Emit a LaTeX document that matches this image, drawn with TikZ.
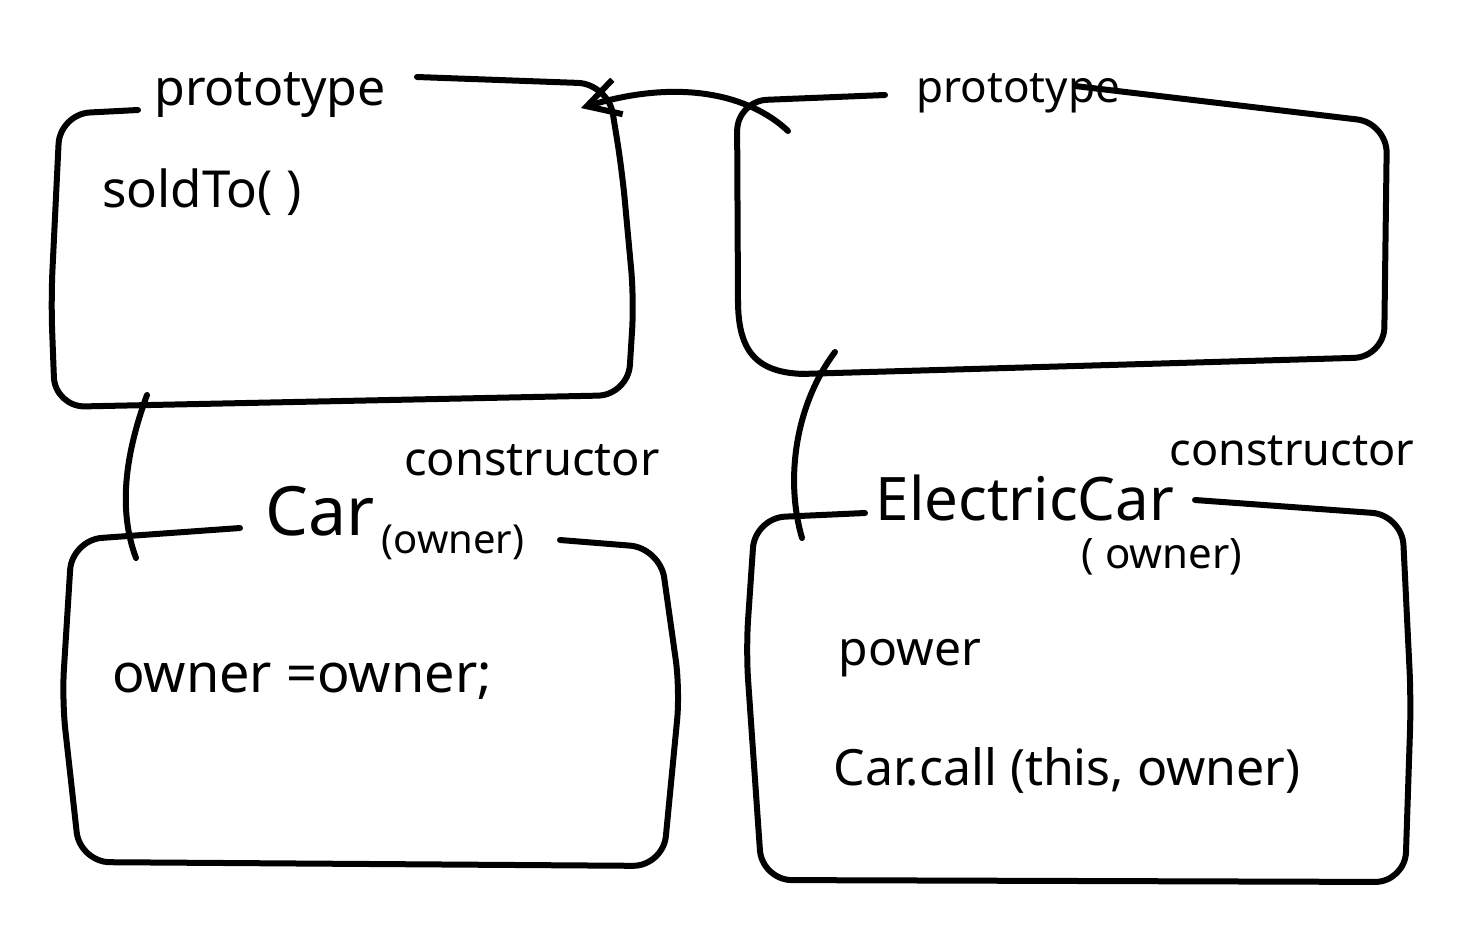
\documentclass[tikz,border=0pt]{standalone}
\usepackage{fontspec}
\setmainfont{Noto Sans}
\usetikzlibrary{arrows.meta}
\begin{document}
\begin{tikzpicture}[x=1pt,y=-1pt,
  ink/.style={line width=6pt, line cap=round, line join=round},
  boxline/.style={ink, rounded corners=30pt},
  lbl/.style={inner sep=0pt, anchor=base},
  fs/.style={font=\fontsize{#1}{#1}\selectfont}]
\useasboundingbox (0,0) rectangle (1463,938);

% labels
\node[lbl, fs=50] (protoA) at (270,105) {prototype};
\node[lbl, fs=51] (sold) at (202,207) {soldTo( )};
\node[lbl, fs=44] (protoB) at (1018,102) {prototype};
\node[lbl, fs=68] (car) at (320,535) {Car};
\node[lbl, fs=47] (consA) at (532,475) {constructor};
\node[lbl, fs=40] (ownA) at (453,553) {(owner)};
\node[lbl, fs=60] (ecar) at (1025,520) {ElectricCar};
\node[lbl, fs=45] (consB) at (1292,465) {constructor};
\node[lbl, fs=42] (ownB) at (1162,568) {( owner)};
\node[lbl, fs=54] (assign) at (302,692) {owner =owner;};
\node[lbl, fs=48] (power) at (910,665) {power};
\node[lbl, fs=50] (call) at (1067,785) {Car.call (this, owner)};

% top-left box (Car.prototype)
\draw[boxline] (138,110) -- (60,114) -- (51,300) -- (55,407) -- (628,395) -- (634,300) -- (622,170) -- (608,84) -- (417,77);
% top-right box (ElectricCar.prototype)
\draw[boxline] (1075,86) -- (1387,123) -- (1384,357) -- (800,374);
\draw[ink] (805,374) .. controls (755,373) and (738,350) .. (738,300);
\draw[boxline] (738,305) -- (737,101) -- (885,95);
% bottom-left box (Car)
\draw[boxline] (240,528) -- (72,540) -- (62,700) -- (80,862) -- (663,866) -- (680,690) -- (660,548) -- (560,540);
% bottom-right box (ElectricCar)
\draw[boxline] (865,513) -- (755,518) -- (746,650) -- (762,880) -- (1405,882) -- (1411,700) -- (1402,515) -- (1195,500);

% connectors
\coordinate (cA1) at (147,395);
\coordinate (cA2) at (136,558);
\coordinate (cB1) at (835,352);
\coordinate (cB2) at (802,538);
\coordinate (aS) at (788,131);
\coordinate (aE) at (581,108);
\draw[ink] (cA1) .. controls (125,455) and (118,510) .. (cA2);
\draw[ink] (cB1) .. controls (795,405) and (785,480) .. (cB2);
\draw[ink, -{Straight Barb[length=32pt, width=36pt]}] (aS) .. controls (750,95) and (680,78) .. (aE);
\end{tikzpicture}
\end{document}
